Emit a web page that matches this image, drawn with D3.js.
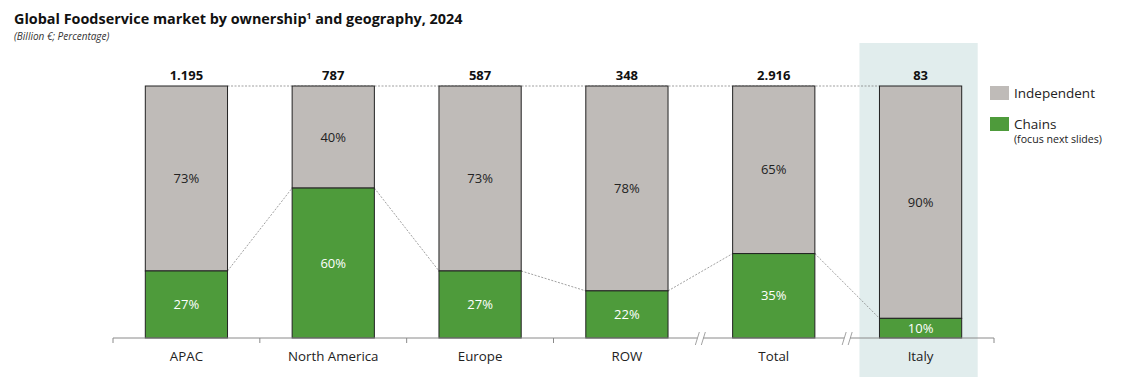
<!DOCTYPE html>
<html>
<head>
<meta charset="utf-8">
<script src="https://cdn.jsdelivr.net/npm/d3@7"></script>
<style>
  body { margin: 0; background: #fff; font-family: "Open Sans", sans-serif; }
  svg text { font-family: "Open Sans", sans-serif; }
</style>
</head>
<body>
<svg id="chart" width="1129" height="386"></svg>
<script>
// data
var regions = ["APAC", "North America", "Europe", "ROW", "Total", "Italy"];
var totals = ["1.195", "787", "587", "348", "2.916", "83"];
// chains share as drawn in the picture (bar heights)
var chainShare = [0.266, 0.595, 0.266, 0.187, 0.335, 0.078];
var chainLabels = ["27%", "60%", "27%", "22%", "35%", "10%"];
var indepLabels = ["73%", "40%", "73%", "78%", "65%", "90%"];
var legendItems = ["Independent", "Chains"];

var svg = d3.select("#chart");

var grey = "#bfbbb8",
    green = "#4e9b3b";

var x = d3.scaleBand()
  .domain(regions)
  .range([113, 994])
  .paddingInner(0.44)
  .paddingOuter(0.22);

var y = d3.scaleLinear()
  .domain([0, 1])
  .range([338, 86]);

// title
svg.append("text")
  .attr("x", 14).attr("y", 24)
  .attr("font-size", 14.4).attr("font-weight", 700).attr("fill", "#111")
  .html('Global Foodservice market by ownership<tspan font-size="8.5" dy="-5">1</tspan><tspan dy="5"> and geography, 2024</tspan>');

svg.append("text")
  .attr("x", 14).attr("y", 40)
  .attr("font-size", 10).attr("font-style", "italic").attr("fill", "#333")
  .text("(Billion €; Percentage)");

// Italy highlight band
var xi = x("Italy");
svg.append("rect")
  .attr("x", xi - 20).attr("y", 43)
  .attr("width", x.bandwidth() + 36).attr("height", 334)
  .attr("fill", "#e1eded");

// top dotted line
svg.append("line")
  .attr("x1", x("APAC") + x.bandwidth()).attr("x2", x("Italy"))
  .attr("y1", y(1)).attr("y2", y(1))
  .attr("stroke", "#777").attr("stroke-width", 0.7)
  .attr("stroke-dasharray", "2,1.5");

// connectors between chain tops
for (var i = 0; i < regions.length - 1; i++) {
  svg.append("line")
    .attr("x1", x(regions[i]) + x.bandwidth()).attr("y1", y(chainShare[i]))
    .attr("x2", x(regions[i + 1])).attr("y2", y(chainShare[i + 1]))
    .attr("stroke", "#777").attr("stroke-width", 0.7)
    .attr("stroke-dasharray", "2,1.5");
}

// bars
var bars = svg.append("g").selectAll("g")
  .data(regions)
  .enter().append("g");

bars.append("rect")
  .attr("x", function(d) { return x(d); })
  .attr("y", y(1))
  .attr("width", x.bandwidth())
  .attr("height", function(d, i) { return y(chainShare[i]) - y(1); })
  .attr("fill", grey).attr("stroke", "#222").attr("stroke-width", 1);

bars.append("rect")
  .attr("x", function(d) { return x(d); })
  .attr("y", function(d, i) { return y(chainShare[i]); })
  .attr("width", x.bandwidth())
  .attr("height", function(d, i) { return y(0) - y(chainShare[i]); })
  .attr("fill", green).attr("stroke", "#222").attr("stroke-width", 1);

bars.append("text")
  .attr("x", function(d) { return x(d) + x.bandwidth() / 2; })
  .attr("y", function(d, i) { return (y(1) + y(chainShare[i])) / 2; })
  .attr("dy", "0.35em").attr("text-anchor", "middle")
  .attr("font-size", 13).attr("fill", "#222")
  .text(function(d, i) { return indepLabels[i]; });

bars.append("text")
  .attr("x", function(d) { return x(d) + x.bandwidth() / 2; })
  .attr("y", function(d, i) { return (y(0) + y(chainShare[i])) / 2; })
  .attr("dy", "0.35em").attr("text-anchor", "middle")
  .attr("font-size", 13).attr("font-weight", 500).attr("fill", "#fff")
  .text(function(d, i) { return chainLabels[i]; });

bars.append("text")
  .attr("x", function(d) { return x(d) + x.bandwidth() / 2; })
  .attr("y", y(1) - 6)
  .attr("text-anchor", "middle")
  .attr("font-size", 13).attr("font-weight", 700).attr("fill", "#111")
  .text(function(d, i) { return totals[i]; });

// x axis
var axis = svg.append("g");
axis.append("line")
  .attr("x1", 113).attr("x2", 994)
  .attr("y1", y(0)).attr("y2", y(0))
  .attr("stroke", "#8a8a8a").attr("stroke-width", 1);

var bounds = regions.map(function(d) { return x(d) - x.step() * 0.22; });
bounds.push(994);
axis.selectAll(".tick")
  .data(bounds.filter(function(b, i) { return i !== 4 && i !== 5; }))
  .enter().append("line")
  .attr("x1", function(d) { return d; }).attr("x2", function(d) { return d; })
  .attr("y1", y(0)).attr("y2", y(0) + 5)
  .attr("stroke", "#8a8a8a");

// axis breaks
[bounds[4], bounds[5]].forEach(function(b) {
  axis.append("rect")
    .attr("x", b - 3).attr("y", y(0) - 1).attr("width", 6).attr("height", 2)
    .attr("fill", "#fff");
  [-3, 3].forEach(function(o) {
    axis.append("line")
      .attr("x1", b + o - 2).attr("y1", y(0) + 7)
      .attr("x2", b + o + 2).attr("y2", y(0) - 6)
      .attr("stroke", "#8a8a8a").attr("stroke-width", 0.8);
  });
});

axis.selectAll(".lab")
  .data(regions)
  .enter().append("text")
  .attr("x", function(d) { return x(d) + x.bandwidth() / 2; })
  .attr("y", 361)
  .attr("text-anchor", "middle")
  .attr("font-size", 13.3).attr("fill", "#222")
  .text(function(d) { return d; });

// legend
var legend = svg.append("g");
[grey, green].forEach(function(c, i) {
  legend.append("rect")
    .attr("x", 990).attr("y", 86 + i * 31)
    .attr("width", 19).attr("height", 14)
    .attr("fill", c);
  legend.append("text")
    .attr("x", 1014).attr("y", 93 + i * 31)
    .attr("dy", "0.35em")
    .attr("font-size", 13.5).attr("fill", "#222")
    .text(legendItems[i]);
});
legend.append("text")
  .attr("x", 1014).attr("y", 143)
  .attr("font-size", 10.6).attr("fill", "#222")
  .text("(focus next slides)");
</script>
</body>
</html>
